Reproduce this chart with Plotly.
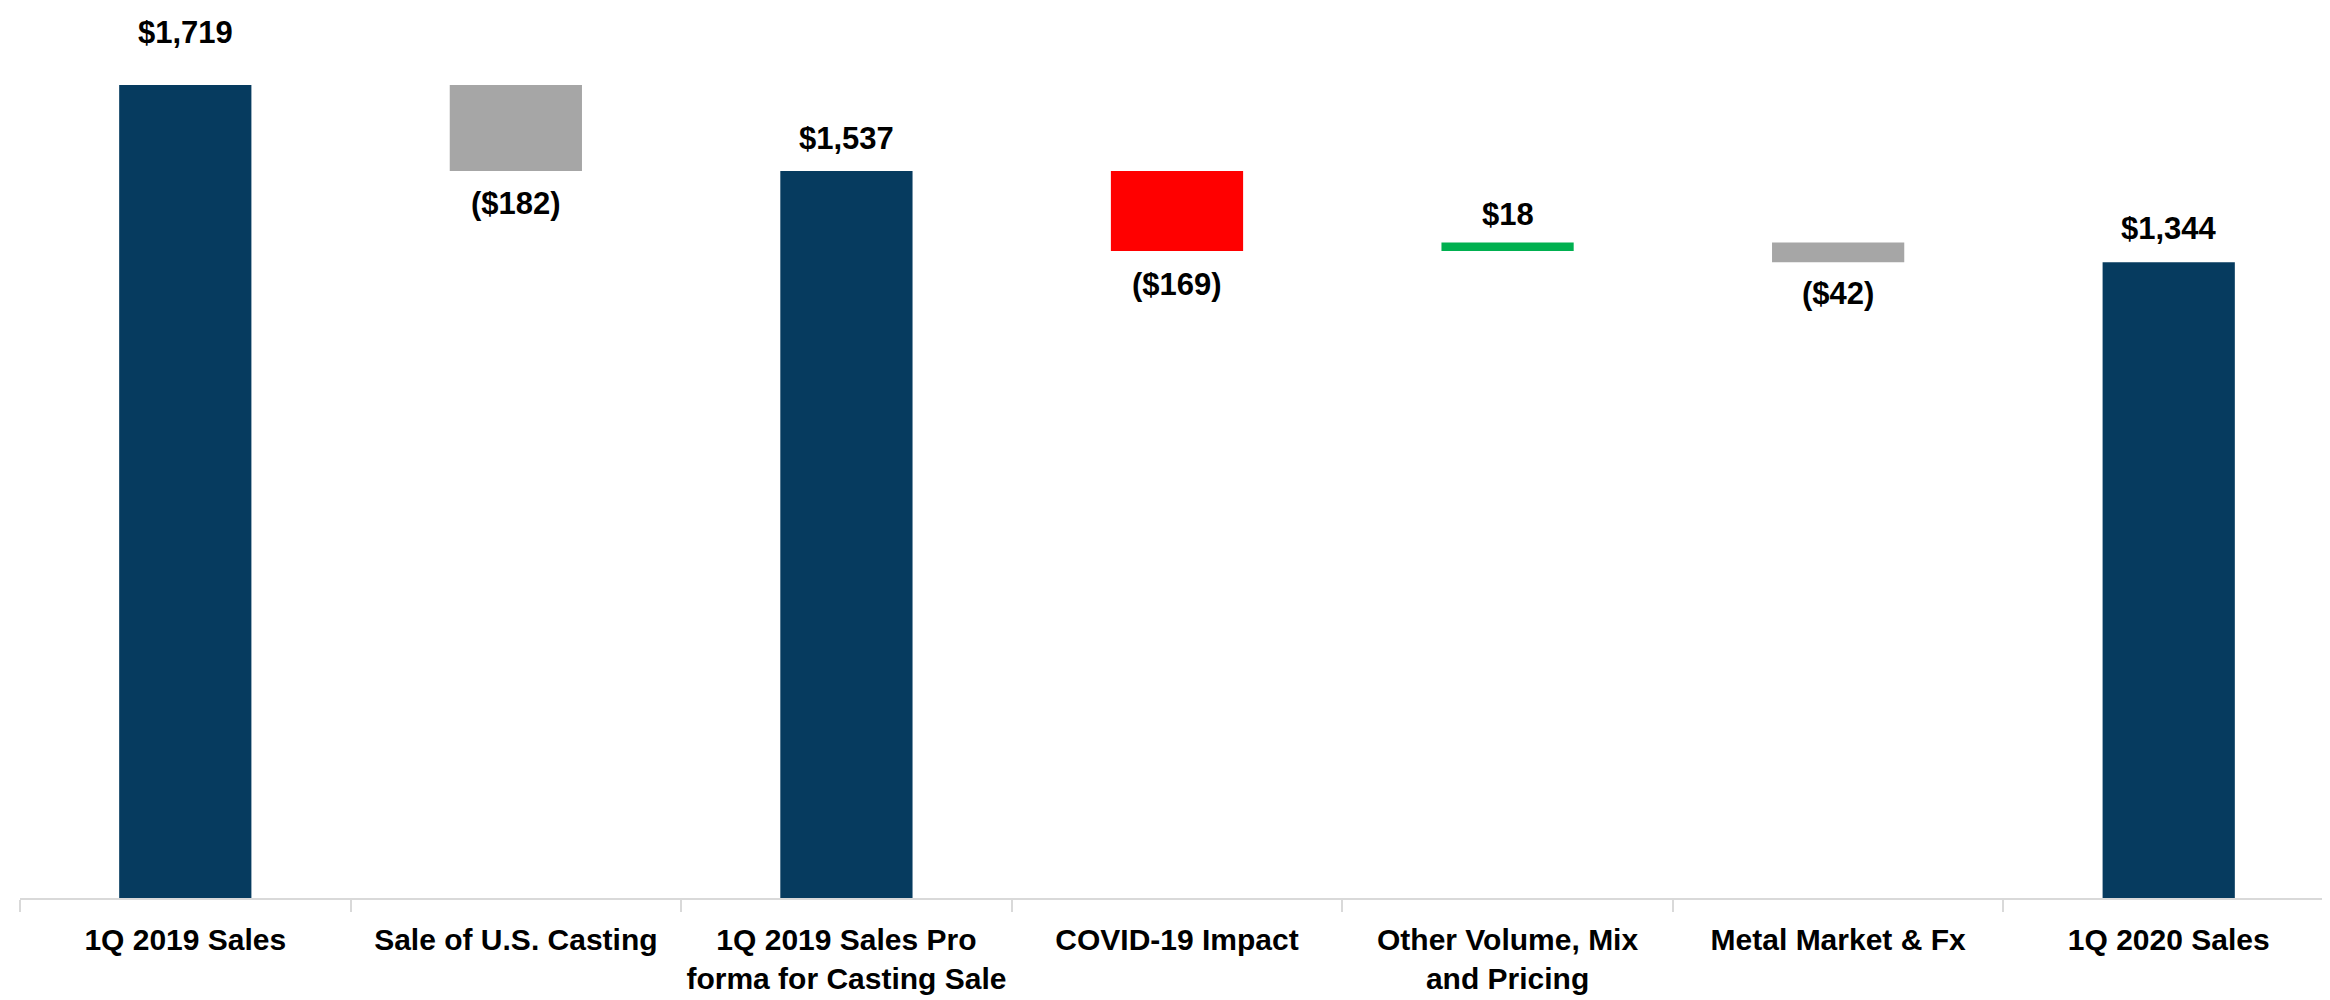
import plotly.graph_objects as go

# ---- data ----
categories = [
    "1Q 2019 Sales",
    "Sale of U.S. Casting",
    "1Q 2019 Sales Pro<br>forma for Casting Sale",
    "COVID-19 Impact",
    "Other Volume, Mix<br>and Pricing",
    "Metal Market & Fx",
    "1Q 2020 Sales",
]
values = [1719, -182, 1537, -169, 18, -42, 1344]
kinds = ["total", "delta", "total", "delta", "delta", "delta", "total"]
labels = ["$1,719", "($182)", "$1,537", "($169)", "$18", "($42)", "$1,344"]

# ---- style ----
bar_colors = ["#063B5F", "#A6A6A6", "#063B5F", "#FF0000", "#00B050", "#A6A6A6", "#063B5F"]
label_offsets = [52, 32, 33, 34, 28, 31, 34]
FONT = "Liberation Sans, Arial, sans-serif"

bases, heights, tops, bottoms = [], [], [], []
running = 0
for v, k in zip(values, kinds):
    if k == "total":
        running = v
        bases.append(0)
        heights.append(v)
        tops.append(v)
        bottoms.append(0)
    else:
        new = running + v
        lo, hi = min(running, new), max(running, new)
        bases.append(lo)
        heights.append(hi - lo)
        tops.append(hi)
        bottoms.append(lo)
        running = new

fig = go.Figure(
    go.Bar(
        x=categories,
        y=heights,
        base=bases,
        width=0.4,
        marker=dict(color=bar_colors, line=dict(width=0)),
        hoverinfo="skip",
    )
)

for i, (c, v, lab) in enumerate(zip(categories, values, labels)):
    if v >= 0:
        y, shift = tops[i], label_offsets[i]
    else:
        y, shift = bottoms[i], -label_offsets[i]
    fig.add_annotation(
        x=c, y=y, text=lab, showarrow=False, yshift=shift,
        yanchor="middle", xanchor="center",
        font=dict(family=FONT, size=31, color="black", weight="bold"),
    )

fig.update_layout(
    width=2330,
    height=1000,
    margin=dict(l=12, r=4, t=15, b=110),
    plot_bgcolor="white",
    paper_bgcolor="white",
    showlegend=False,
    bargap=0.6,
)
fig.update_xaxes(
    type="category",
    range=[-0.5, 6.5],
    automargin=False,
    tickangle=0,
    showline=True,
    linecolor="#D9D9D9",
    linewidth=2,
    ticks="outside",
    tickson="boundaries",
    ticklen=12,
    tickcolor="#D9D9D9",
    tickwidth=2,
    ticklabelstandoff=14,
    showgrid=False,
    tickfont=dict(family=FONT, size=30, color="black", weight="bold"),
)
fig.update_yaxes(range=[0, 1850], visible=False, showgrid=False, zeroline=False)

fig.write_html("out.html")
